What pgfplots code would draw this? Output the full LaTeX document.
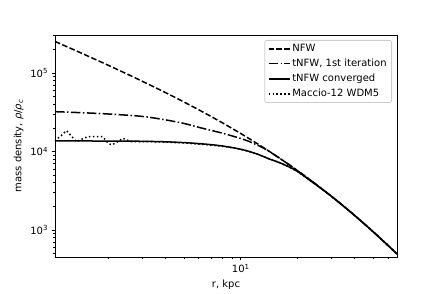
\documentclass[border=0pt]{standalone}
\usepackage{fontspec}
\setmainfont{DejaVu Sans}
\usepackage{pgfplots}
\usepackage{pgfplotstable}
\pgfplotsset{compat=1.18}

\pgfplotstableread{
r rho
1.04 254800
1.2 218800
1.5 172200
2 125700
2.5 97890
3 79440
4 56570
5 43020
6 34120
7 27870
8 23270
9 19750
10 17000
12 12980
14 10240
16 8270
18 6807
20 5689
23 4448
26 3557
30 2715
35 2007
40 1530
45 1195
50 952.7
55 772.5
60 635.6
67 493.7
}\nfw

\pgfplotstableread{
r rho
1.04 32360
1.5 31260
2 30200
3 28180
4 25410
5 22910
6 20420
7 18620
8 17180
9 15850
10 14700
11 13550
12 12350
13 11300
14 10180
16 8270
18 6807
20 5689
23 4448
26 3557
30 2715
35 2007
40 1530
45 1195
50 952.7
55 772.5
60 635.6
67 493.7
}\tnfwone

\pgfplotstableread{
r rho
1.04 13680
2 13650
3 13550
4 13340
5 13030
6 12650
7 12250
8 11800
9 11270
10 10720
11 10100
12 9440
13 8780
14 8130
16 7240
18 6380
20 5560
23 4365
26 3515
30 2715
35 2007
40 1530
45 1195
50 952.7
55 772.5
60 635.6
67 493.7
}\tnfwconv

\pgfplotstableread{
r rho
1.04 13680
1.12 16000
1.196 18500
1.27 15800
1.35 13400
1.45 14500
1.55 15500
1.7 15600
1.86 15500
1.99 12800
2.07 12200
2.18 12900
2.38 14800
2.5 14000
2.64 13400
3 13450
4 13250
5 12900
6 12500
7 12100
8 11700
9 11200
10 10700
11 10080
12 9440
13 8780
14 8130
16 7240
18 6380
20 5560
23 4365
26 3520
30 2720
35 2010
40 1535
45 1198
50 955
55 775
60 640
67 497
}\maccio

\begin{document}
\begin{tikzpicture}[x=1pt,y=1pt]
\path[use as bounding box] (0,0) rectangle (442,294);
\begin{loglogaxis}[
  at={(55pt,37pt)}, anchor=south west, scale only axis,
  width=342pt, height=222pt,
  xmin=1.04, xmax=67, ymin=452, ymax=3.08e5,
  tick pos=left, tick align=outside,
  major tick length=3.5pt, minor tick length=2pt,
  every tick/.style={black, line width=0.8pt},
  axis line style={line width=0.8pt},
  xtick={10}, xticklabels={10\textsuperscript{1}},
  ytick={1000,10000,100000},
  yticklabels={10\textsuperscript{3},10\textsuperscript{4},10\textsuperscript{5}},
  minor xtick={2,3,4,5,6,7,8,9,20,30,40,50,60},
  minor ytick={500,600,700,800,900,2000,3000,4000,5000,6000,7000,8000,9000,20000,30000,40000,50000,60000,70000,80000,90000,200000,300000},
  xlabel={r, kpc},
  ylabel={mass density, \textit{ρ}/\textit{ρ}\textsubscript{\textit{c}}},
  label style={font=\fontsize{10}{12}\selectfont},
  tick label style={font=\fontsize{10}{12}\selectfont},
  legend cell align=left,
  legend image code/.code={\draw[#1] (0pt,0pt) -- (21pt,0pt);},
  legend style={at={(1,1)}, anchor=north east, xshift=-5pt, yshift=-5pt,
    draw=black!20, rounded corners=2pt, line width=0.8pt,
    font=\fontsize{10}{12}\selectfont, row sep=2pt, inner xsep=3pt, inner ysep=2pt},
]
\addplot[black, line width=1.5pt, smooth, tension=0.5, dash pattern=on 5.55pt off 2.4pt] table[x=r,y=rho] {\nfw};
\addlegendentry{NFW}
\addplot[black, line width=1.5pt, smooth, tension=0.5, dash pattern=on 9.6pt off 2.4pt on 1.5pt off 2.4pt] table[x=r,y=rho] {\tnfwone};
\addlegendentry{tNFW, 1st iteration}
\addplot[black, line width=1.5pt, smooth, tension=0.5] table[x=r,y=rho] {\tnfwconv};
\addlegendentry{tNFW converged}
\addplot[black, line width=1.5pt, dash pattern=on 1.5pt off 2.475pt] table[x=r,y=rho] {\maccio};
\addlegendentry{Maccio-12 WDM5}
\end{loglogaxis}
\end{tikzpicture}
\end{document}
